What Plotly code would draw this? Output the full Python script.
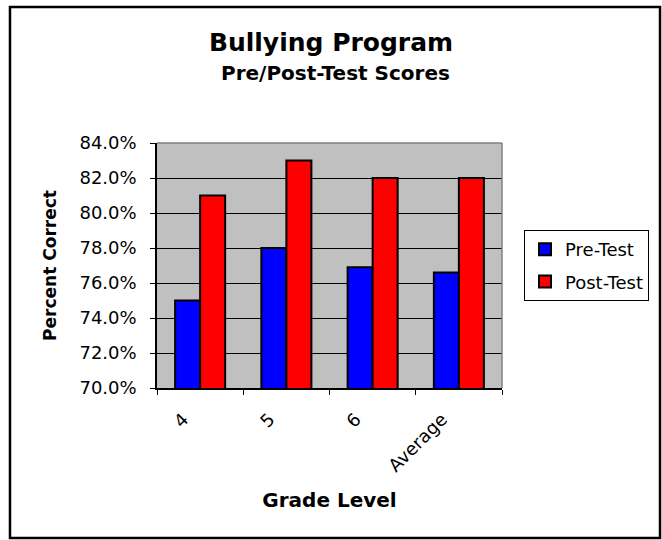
import plotly.graph_objects as go

categories = ["4", "5", "6", "Average"]
pre_test = [75.0, 78.0, 76.9, 76.6]
post_test = [81.0, 83.0, 82.0, 82.0]
y_ticks = [70, 72, 74, 76, 78, 80, 82, 84]
y_tick_labels = [f"{v:.1f}%" for v in y_ticks]

FONT = "DejaVu Sans"

fig = go.Figure()
fig.add_trace(go.Bar(
    x=categories, y=pre_test, name="Pre-Test", legendgroup="pre",
    marker=dict(color="#0000FF", line=dict(color="black", width=2)),
))
fig.add_trace(go.Bar(
    x=categories, y=post_test, name="Post-Test", legendgroup="post",
    marker=dict(color="#FF0000", line=dict(color="black", width=2)),
))

fig.update_layout(
    width=662, height=540,
    margin=dict(l=157, r=160, t=143, b=152),
    paper_bgcolor="white",
    plot_bgcolor="#C0C0C0",
    barmode="group",
    bargap=0.42,
    bargroupgap=0,
    font=dict(family=FONT, color="black"),
    title=dict(
        text="<b>Bullying Program</b>",
        font=dict(family=FONT, size=25, color="black"),
        x=0.5, xanchor="center", xref="container",
        y=1 - 42 / 540, yanchor="middle", yref="container",
    ),
    annotations=[
        dict(text="<b>Pre/Post-Test Scores</b>", xref="paper", yref="paper",
             x=0.516, y=1.2857, xanchor="center", yanchor="middle",
             showarrow=False, font=dict(family=FONT, size=20, color="black")),
    ],
    xaxis=dict(
        type="category",
        tickson="boundaries",
        ticks="outside", ticklen=5, tickcolor="black", tickwidth=1,
        showline=True, linecolor="black", linewidth=1.5,
        showgrid=False,
        tickangle=-45,
        tickfont=dict(family=FONT, size=18, color="black"),
        ticklabelshift=-17,
        ticklabelstandoff=12,
        title=dict(text="<b>Grade Level</b>",
                   font=dict(family=FONT, size=20, color="black"),
                   standoff=18),
    ),
    yaxis=dict(
        range=[70, 84],
        tickmode="array",
        tickvals=y_ticks,
        ticktext=y_tick_labels,
        ticks="outside", ticklen=5, tickcolor="black", tickwidth=1,
        showline=True, linecolor="black", linewidth=1.5,
        showgrid=True, gridcolor="black", gridwidth=1,
        zeroline=False,
        tickfont=dict(family=FONT, size=18, color="black"),
        ticklabelstandoff=10,
        title=dict(text="<b>Percent Correct</b>",
                   font=dict(family=FONT, size=17, color="black"),
                   standoff=19),
    ),
    legend=dict(
        x=1.0638, y=0.6449, xanchor="left", yanchor="top",
        bordercolor="black", borderwidth=1, bgcolor="white",
        font=dict(family=FONT, size=18, color="black"),
        tracegroupgap=6,
    ),
    shapes=[
        dict(type="line", xref="paper", yref="paper", x0=0, x1=1, y0=1, y1=1,
             line=dict(color="#808080", width=1.5), layer="above"),
        dict(type="line", xref="paper", yref="paper", x0=1, x1=1, y0=0, y1=1,
             line=dict(color="#808080", width=1.5), layer="above"),
        dict(type="rect", xref="paper", yref="paper",
             x0=-0.4261, x1=1.458, y0=-0.6122, y1=1.5551,
             line=dict(color="black", width=2.5), fillcolor="rgba(0,0,0,0)",
             layer="above"),
    ],
)

fig.write_html("out.html", config={"displayModeBar": False},
               post_script="document.body.style.margin='0';")
